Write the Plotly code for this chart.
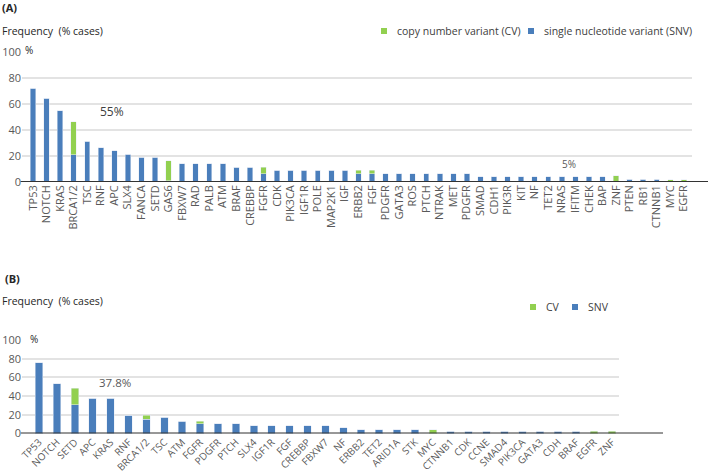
import plotly.graph_objects as go

# Panel A - all cases
genes_a = ["TP53", "NOTCH", "KRAS", "BRCA1/2", "TSC", "RNF", "APC", "SLX4", "FANCA", "SETD",
           "GAS6", "FBXW7", "RAD", "PALB", "ATM", "BRAF", "CREBBP", "FGFR", "CDK", "PIK3CA",
           "IGF1R", "POLE", "MAP2K1", "IGF", "ERBB2", "FGF", "PDGFR", "GATA3", "ROS", "PTCH",
           "NTRAK", "MET", "PDGFR", "SMAD", "CDH1", "PIK3R", "KIT", "NF", "TET2", "NRAS",
           "IFITM", "CHEK", "BAP", "ZNF", "PTEN", "RB1", "CTNNB1", "MYC", "EGFR"]
snv_a = [72, 64.5, 55, 21, 31.5, 26.5, 24, 21.5, 19, 19,
         1, 14, 14, 14, 14, 11.5, 11.5, 6.5, 9, 9,
         9, 9, 9, 9, 6.5, 6.5, 6.5, 6.5, 6.5, 6.5,
         6.5, 6.5, 6.5, 4.2, 4.2, 4.2, 4.2, 4.2, 4.2, 4.2,
         4.2, 4.2, 4.2, 0, 2, 2, 2, 0, 0]
cv_a = [0, 0, 0, 25.5, 0, 0, 0, 0, 0, 0,
        15.5, 0, 0, 0, 0, 0, 0, 5, 0, 0,
        0, 0, 0, 0, 2.5, 2.5, 0, 0, 0, 0,
        0, 0, 0, 0, 0, 0, 0, 0, 0, 0,
        0, 0, 0, 4.8, 0, 0, 0, 1.8, 1.8]

# Panel B
genes_b = ["TP53", "NOTCH", "SETD", "APC", "KRAS", "RNF", "BRCA1/2", "TSC", "ATM", "FGFR",
           "PDGFR", "PTCH", "SLX4", "IGF1R", "FGF", "CREBBP", "FBXW7", "NF", "ERBB2", "TET2",
           "ARID1A", "STK", "MYC", "CTNNB1", "CDK", "CCNE", "SMAD4", "PIK3CA", "GATA3", "CDH",
           "BRAF", "EGFR", "ZNF"]
snv_b = [75.5, 53, 30.5, 37.8, 37.8, 19.5, 15, 17.3, 13, 10.5,
         10.5, 10.5, 8.5, 8.5, 8.5, 8.5, 8.5, 6.3, 4.2, 4.2,
         4.2, 4.2, 0, 2.6, 2.6, 2.6, 2.6, 2.6, 2.6, 2.6,
         2.6, 0, 0]
cv_b = [0, 0, 18, 0, 0, 0, 4.5, 0, 0, 2.5,
        0, 0, 0, 0, 0, 0, 0, 0, 0, 0,
        0, 0, 4.2, 0, 0, 0, 0, 0, 0, 0,
        0, 2.6, 2.6]

BLUE = "#4a7ebb"
GREEN = "#92d050"
W, H = 709, 475


def px_x(p):
    return p / W


def px_y(p):
    # pixel row -> paper y
    return 1 - p / H


xa = list(range(len(genes_a)))
xb = list(range(len(genes_b)))

fig = go.Figure()
fig.add_trace(go.Bar(x=xa, y=snv_a, name="SNV", marker_color=BLUE, width=0.4,
                     xaxis="x", yaxis="y"))
fig.add_trace(go.Bar(x=xa, y=cv_a, name="CV", marker_color=GREEN, width=0.4,
                     xaxis="x", yaxis="y"))
fig.add_trace(go.Bar(x=xb, y=snv_b, name="SNV", marker_color=BLUE, width=0.42,
                     xaxis="x2", yaxis="y2"))
fig.add_trace(go.Bar(x=xb, y=cv_b, name="CV", marker_color=GREEN, width=0.42,
                     xaxis="x2", yaxis="y2"))

ytickfont = dict(family="Open Sans", size=11, color="#595959")
grid = "#e3e3e3"

fig.update_layout(
    width=W, height=H,
    margin=dict(l=0, r=0, t=0, b=0),
    paper_bgcolor="white", plot_bgcolor="white",
    barmode="stack",
    showlegend=False,
    font=dict(family="Open Sans", color="#404040"),
    xaxis=dict(domain=[px_x(22), px_x(692)], range=[-0.81, 48.6], anchor="y",
               tickvals=xa, ticktext=genes_a, tickangle=-90,
               tickfont=dict(family="Open Sans", size=11, color="#595959"),
               showgrid=False, zeroline=False, showline=False, ticks="", automargin=False),
    yaxis=dict(domain=[px_y(182), px_y(52)], range=[0, 100], anchor="x",
               tickvals=[0, 20, 40, 60, 80, 100], tickfont=ytickfont,
               gridcolor=grid, gridwidth=1.5, zeroline=False, showline=False, automargin=False),
    xaxis2=dict(domain=[px_x(22), px_x(619)], range=[-0.95, 32.4], anchor="y2",
                tickvals=xb, ticktext=genes_b, tickangle=-45,
                tickfont=dict(family="Open Sans", size=10, color="#595959"),
                showgrid=False, zeroline=False, showline=False, ticks="", automargin=False),
    yaxis2=dict(domain=[px_y(433.5), px_y(340)], range=[0, 100], anchor="x2",
                tickvals=[0, 20, 40, 60, 80, 100], tickfont=ytickfont,
                gridcolor=grid, gridwidth=1.5, zeroline=False, showline=False, automargin=False),
)

# x axis baselines with a soft shadow, extending past the gridlines
for xr, yr, end in [("x domain", "y", (708 - 22) / 670), ("x2 domain", "y2", (663 - 22) / 597)]:
    fig.add_shape(type="rect", xref=xr, yref=yr, x0=0, x1=end, y0=-4, y1=0,
                  fillcolor="rgba(0,0,0,0.06)", line_width=0, layer="below")
    fig.add_shape(type="line", xref=xr, yref=yr, x0=-0.002, x1=end, y0=0, y1=0,
                  line=dict(color="#333333", width=2))

# legends drawn as small squares + labels
legend_items = [
    ("copy number variant (CV)", GREEN, 384, 31),
    ("single nucleotide variant (SNV)", BLUE, 531, 31),
    ("CV", GREEN, 533, 307),
    ("SNV", BLUE, 575, 307),
]
for label, col, cx, cy in legend_items:
    fig.add_shape(type="rect", xref="paper", yref="paper",
                  x0=px_x(cx - 3), x1=px_x(cx + 3), y0=px_y(cy + 3), y1=px_y(cy - 3),
                  fillcolor=col, line_width=0)
    fig.add_annotation(text=label, x=px_x(cx + 11), y=px_y(cy), xref="paper", yref="paper",
                       xanchor="left", yanchor="middle", showarrow=False,
                       font=dict(family="Open Sans", size=10.5, color="#404040"))

ann = [
    dict(text="<b>(A)</b>", x=0, y=px_y(8), size=11),
    dict(text="Frequency  (% cases)", x=0, y=px_y(31), size=10.5),
    dict(text="%", x=px_x(23), y=px_y(50), size=10),
    dict(text="<b>(B)</b>", x=px_x(3), y=px_y(278), size=11),
    dict(text="Frequency  (% cases)", x=0, y=px_y(301), size=10.5),
    dict(text="%", x=px_x(28), y=px_y(339), size=10),
]
for a in ann:
    fig.add_annotation(text=a["text"], x=a["x"], y=a["y"], xref="paper", yref="paper",
                       xanchor="left", yanchor="middle", showarrow=False,
                       font=dict(family="Open Sans", size=a["size"], color="#262626"))

fig.add_annotation(text="55%", x=5.8, y=54, xref="x", yref="y", showarrow=False,
                   font=dict(family="Open Sans", size=12, color="#404040"))
fig.add_annotation(text="5%", x=39.5, y=14, xref="x", yref="y", showarrow=False,
                   font=dict(family="Open Sans", size=10, color="#595959"))
fig.add_annotation(text="37.8%", x=4.25, y=55, xref="x2", yref="y2", showarrow=False,
                   font=dict(family="Open Sans", size=11.5, color="#595959"))

# page body has a default margin; drop it so the figure sits at the window's corner
fig.write_html("out.html", config={"displayModeBar": False},
               post_script="document.body.style.margin='0';")
